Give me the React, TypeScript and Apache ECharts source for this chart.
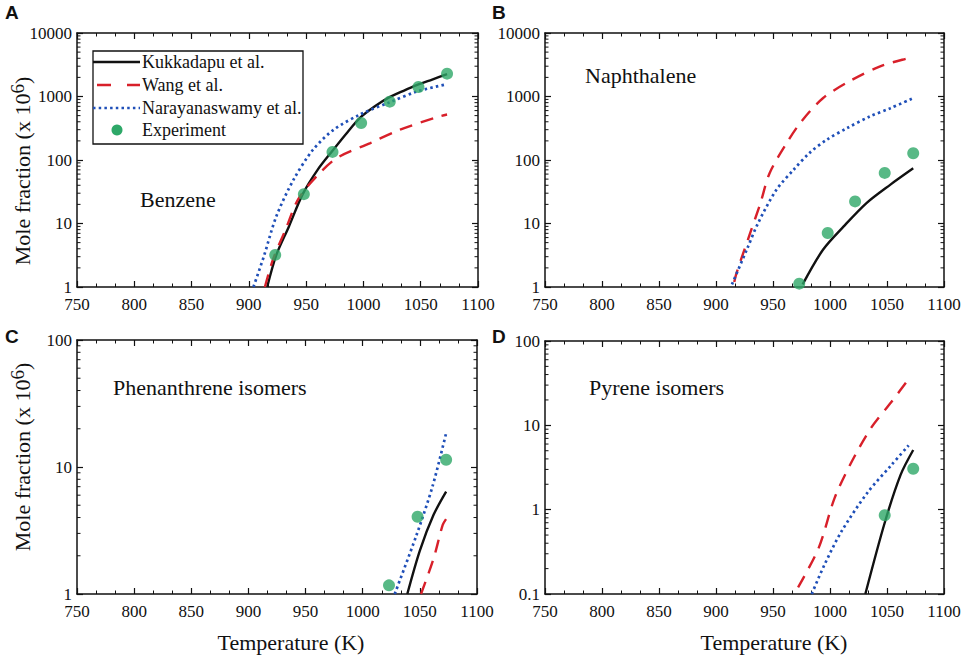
import React, { useEffect, useRef } from "react";
import * as echarts from "echarts";

// ---------- axis ranges / tick labels ----------
const T_MIN = 750;
const T_MAX = 1100;
const T_STEP = 50;
const yRanges = [
  [1, 10000],
  [1, 10000],
  [1, 100],
  [0.1, 100],
];
const panelLetters = ["A", "B", "C", "D"];
const panelNames = ["Benzene", "Naphthalene", "Phenanthrene isomers", "Pyrene isomers"];
const seriesNames = ["Kukkadapu et al.", "Wang et al.", "Narayanaswamy et al.", "Experiment"];

// ---------- data (temperature K, mole fraction x1e6) ----------
// A: Benzene
const benzeneExpT = [923, 948, 973, 998, 1023, 1048, 1073];
const benzeneExp = [3.2, 29, 134, 383, 829, 1412, 2290];
const benzeneKukT = [916, 924, 935, 947, 960, 973, 985, 997, 1010, 1022, 1035, 1047, 1060, 1073];
const benzeneKuk = [1, 3.2, 9, 29, 70, 140, 260, 460, 700, 960, 1230, 1520, 1850, 2250];
const benzeneWangT = [914, 921, 932, 943, 959, 977, 1006, 1032, 1067, 1073];
const benzeneWang = [1, 2.7, 8, 24, 55, 108, 185, 300, 490, 520];
const benzeneNarT = [904, 913, 924, 939, 956, 974, 997, 1022, 1047, 1072];
const benzeneNar = [1, 3, 13, 49, 145, 300, 520, 800, 1200, 1550];

// B: Naphthalene
const naphExpT = [973, 998, 1022, 1048, 1073];
const naphExp = [1.13, 7.1, 22.3, 62.6, 128];
const naphKukT = [976, 994, 1012, 1032, 1053, 1073];
const naphKuk = [1.1, 3.9, 9, 21, 41, 74];
const naphWangT = [916, 918, 930, 939, 947, 962, 975, 994, 1017, 1044, 1069, 1073];
const naphWang = [1.2, 1.66, 7.1, 21, 62, 185, 407, 947, 1735, 2985, 4040, 4150];
const naphNarT = [914, 927, 937, 953, 968, 982, 997, 1015, 1035, 1053, 1073];
const naphNar = [1.1, 3.87, 10.2, 34, 70, 129, 208, 318, 485, 655, 943];

// C: Phenanthrene isomers
const phenExpT = [1023, 1048, 1073];
const phenExp = [1.17, 4.06, 11.4];
const phenKukT = [1039, 1050, 1062, 1073];
const phenKuk = [1, 2.2, 4.2, 6.4];
const phenWangT = [1051, 1062, 1070, 1073];
const phenWang = [1, 1.9, 3.5, 3.9];
const phenNarT = [1028, 1047, 1061, 1073];
const phenNar = [1, 2.9, 7, 18.5];

// D: Pyrene isomers
const pyrExpT = [1048, 1073];
const pyrExp = [0.86, 3.06];
const pyrKukT = [1031, 1048, 1062, 1073];
const pyrKuk = [0.1, 0.7, 2.6, 5.1];
const pyrWangT = [972, 990, 1004, 1019, 1036, 1054, 1070];
const pyrWang = [0.12, 0.35, 1.37, 3.7, 9.3, 19, 37];
const pyrNarT = [984, 995, 1010, 1033, 1054, 1069];
const pyrNar = [0.1, 0.22, 0.55, 1.6, 3.4, 5.8];

const panelData = [
  { kT: benzeneKukT, k: benzeneKuk, wT: benzeneWangT, w: benzeneWang, nT: benzeneNarT, n: benzeneNar, eT: benzeneExpT, e: benzeneExp },
  { kT: naphKukT, k: naphKuk, wT: naphWangT, w: naphWang, nT: naphNarT, n: naphNar, eT: naphExpT, e: naphExp },
  { kT: phenKukT, k: phenKuk, wT: phenWangT, w: phenWang, nT: phenNarT, n: phenNar, eT: phenExpT, e: phenExp },
  { kT: pyrKukT, k: pyrKuk, wT: pyrWangT, w: pyrWang, nT: pyrNarT, n: pyrNar, eT: pyrExpT, e: pyrExp },
];

// ---------- layout / style ----------
const grids = [
  { left: 77, top: 33, width: 401, height: 254 },
  { left: 545, top: 33, width: 399, height: 254 },
  { left: 77, top: 340, width: 400, height: 254 },
  { left: 545, top: 341, width: 399, height: 253 },
];
const SERIF = "Liberation Serif";
const SANS = "Liberation Sans";
const BLACK = "#111111";
const RED = "#d8202a";
const BLUE = "#1f4fb8";
const GREEN = "#2ea868";

const zip = (a: number[], b: number[]) => a.map((x, i) => [x, b[i]]);

function minorLogValues(min: number, max: number) {
  const out: number[][] = [];
  for (let d = min; d < max * 0.999; d *= 10) {
    for (let k = 2; k <= 9; k++) out.push([T_MIN, +(d * k).toPrecision(6)]);
  }
  return out;
}

function buildOption() {
  const xAxis: any[] = [];
  const yAxis: any[] = [];
  const series: any[] = [];
  const labelFmt = (v: number) => String(Number(Number(v).toPrecision(6)));
  grids.forEach((g, i) => {
    const [ymin, ymax] = yRanges[i];
    const line = { show: true, lineStyle: { color: BLACK, width: 1.5 } };
    const tick = { show: true, inside: true, length: 6, lineStyle: { color: BLACK, width: 1.2 } };
    const minor = { show: true, splitNumber: 3, length: 3.5, lineStyle: { color: BLACK, width: 1 } };
    xAxis.push({
      type: "value", gridIndex: i, min: T_MIN, max: T_MAX, interval: T_STEP, position: "bottom",
      axisLine: line, axisTick: tick, minorTick: minor,
      splitLine: { show: false },
      axisLabel: { show: true, margin: 9, color: BLACK, fontFamily: SERIF, fontSize: 17, formatter: labelFmt },
    });
    xAxis.push({
      type: "value", gridIndex: i, min: T_MIN, max: T_MAX, interval: T_STEP, position: "top",
      axisLine: line, axisTick: tick, minorTick: minor,
      splitLine: { show: false },
      axisLabel: { show: false },
    });
    yAxis.push({
      type: "log", logBase: 10, gridIndex: i, min: ymin, max: ymax, position: "left",
      axisLine: line, axisTick: tick,
      splitLine: { show: false },
      axisLabel: { show: true, margin: 5, color: BLACK, fontFamily: SERIF, fontSize: 17, formatter: labelFmt },
    });
    yAxis.push({
      type: "log", logBase: 10, gridIndex: i, min: ymin, max: ymax, position: "right",
      axisLine: line, axisTick: tick,
      splitLine: { show: false },
      axisLabel: { show: false },
    });
    const d = panelData[i];
    const common = { xAxisIndex: 2 * i, yAxisIndex: 2 * i, showSymbol: false, smooth: 0.3, clip: true, z: 3 };
    series.push({ ...common, type: "line", name: seriesNames[0], data: zip(d.kT, d.k), lineStyle: { color: BLACK, width: 2.4 } });
    series.push({ ...common, type: "line", name: seriesNames[1], data: zip(d.wT, d.w), lineStyle: { color: RED, width: 2.4, type: [13, 9] } });
    series.push({ ...common, type: "line", name: seriesNames[2], data: zip(d.nT, d.n), lineStyle: { color: BLUE, width: 2.7, type: [2.5, 3.2] } });
    series.push({
      type: "scatter", name: seriesNames[3], xAxisIndex: 2 * i, yAxisIndex: 2 * i, z: 4,
      data: zip(d.eT, d.e), symbol: "circle", symbolSize: 12, itemStyle: { color: GREEN },
    });
    // minor (2..9) log ticks on left & right axes
    series.push({
      type: "custom", xAxisIndex: 2 * i, yAxisIndex: 2 * i, silent: true, z: 5,
      data: minorLogValues(ymin, ymax),
      renderItem: (_p: any, api: any) => {
        const v = api.value(1);
        const pl = api.coord([T_MIN, v]);
        const pr = api.coord([T_MAX, v]);
        const st = { stroke: BLACK, lineWidth: 1 };
        return {
          type: "group",
          children: [
            { type: "line", shape: { x1: pl[0], y1: pl[1], x2: pl[0] + 3.5, y2: pl[1] }, style: st },
            { type: "line", shape: { x1: pr[0], y1: pr[1], x2: pr[0] - 3.5, y2: pr[1] }, style: st },
          ],
        };
      },
    });
  });

  const graphic: any[] = [];
  const letterPos = [[5, 3], [492, 3], [5, 327], [492, 327]];
  panelLetters.forEach((L, i) => {
    graphic.push({ type: "text", x: letterPos[i][0], y: letterPos[i][1], style: { text: L, font: `bold 19px ${SANS}`, fill: BLACK } });
  });
  const namePos = [[140, 199], [585, 75], [113, 387], [589, 387]];
  panelNames.forEach((n, i) => {
    graphic.push({ type: "text", x: namePos[i][0], y: namePos[i][1], style: { text: n, font: `22px ${SERIF}`, fill: BLACK, verticalAlign: "middle" } });
  });
  // y axis titles
  const yTitlePos = [[22, 171], [22, 457]];
  yTitlePos.forEach((p) => {
    graphic.push({
      type: "text", x: p[0], y: p[1], rotation: Math.PI / 2,
      style: {
        text: "{a|Mole fraction (x 10}{s|6}{a|)}",
        align: "center", verticalAlign: "middle", fill: BLACK,
        rich: {
          a: { fontFamily: SERIF, fontSize: 22, fill: BLACK },
          s: { fontFamily: SERIF, fontSize: 19, fill: BLACK, padding: [0, 0, 10, 0] },
        },
      },
    });
  });
  // x axis titles
  [[291, 642], [774, 642]].forEach((p) => {
    graphic.push({ type: "text", x: p[0], y: p[1], style: { text: "Temperature (K)", font: `22px ${SERIF}`, fill: BLACK, align: "center", verticalAlign: "middle" } });
  });
  // legend (panel A)
  const lx = 93, ly = 51;
  const rows = [62, 85, 108, 130];
  graphic.push({ type: "rect", z: 50, shape: { x: lx, y: ly, width: 210, height: 93 }, style: { fill: "#fff", stroke: BLACK, lineWidth: 1.3 } });
  graphic.push({ type: "line", z: 51, shape: { x1: lx, y1: rows[0], x2: lx + 47, y2: rows[0] }, style: { stroke: BLACK, lineWidth: 2.4 } });
  graphic.push({ type: "line", z: 51, shape: { x1: lx + 4, y1: rows[1], x2: lx + 47, y2: rows[1] }, style: { stroke: RED, lineWidth: 2.4, lineDash: [14, 16] } });
  graphic.push({ type: "line", z: 51, shape: { x1: lx, y1: rows[2], x2: lx + 47, y2: rows[2] }, style: { stroke: BLUE, lineWidth: 2.7, lineDash: [2.5, 3.2] } });
  graphic.push({ type: "circle", z: 51, shape: { cx: lx + 24, cy: rows[3], r: 5.5 }, style: { fill: GREEN } });
  seriesNames.forEach((n, i) => {
    graphic.push({ type: "text", z: 51, x: lx + 49, y: rows[i], style: { text: n, font: `18px ${SERIF}`, fill: BLACK, verticalAlign: "middle" } });
  });

  return {
    animation: false,
    backgroundColor: "#ffffff",
    textStyle: { fontFamily: SERIF },
    grid: grids.map((g) => ({ ...g, containLabel: false })),
    xAxis,
    yAxis,
    series,
    graphic,
  };
}

export default function App() {
  const ref = useRef<HTMLDivElement>(null);
  useEffect(() => {
    document.body.style.margin = "0";
    if (!ref.current) return;
    const chart = echarts.init(ref.current, undefined, { renderer: "svg" });
    chart.setOption(buildOption() as any);
    return () => chart.dispose();
  }, []);
  return <div ref={ref} style={{ width: 969, height: 662 }} />;
}
